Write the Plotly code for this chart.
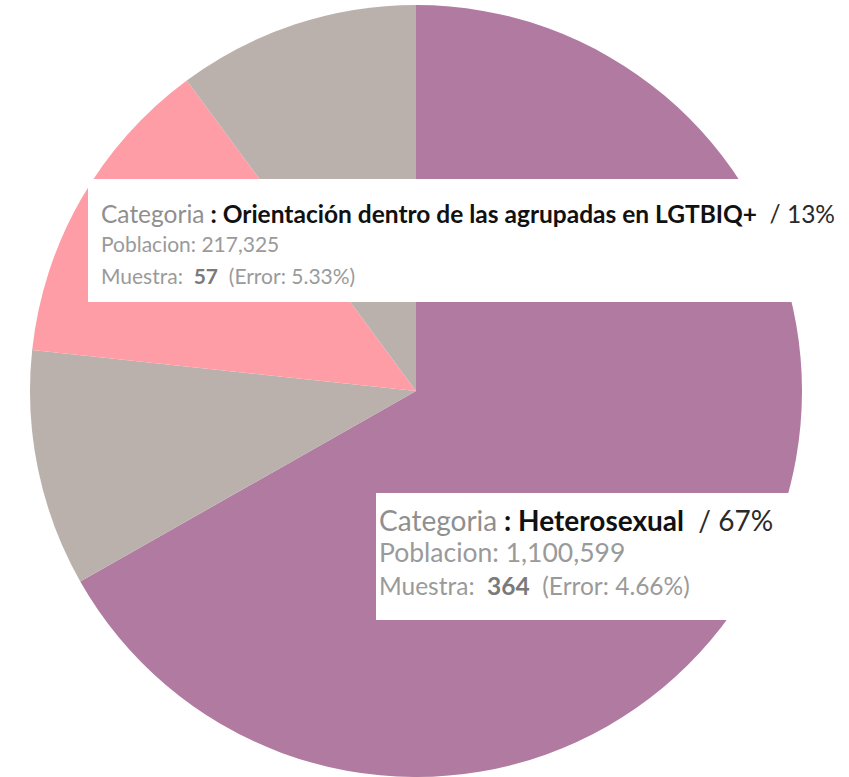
import plotly.graph_objects as go

# ---------------------------------------------------------------------
# DATA
# ---------------------------------------------------------------------
categorias = [
    "Heterosexual",
    "No sabe / No responde",
    "Orientación dentro de las agrupadas en LGTBIQ+",
    "Otra",
]
poblacion = [1100599, 163200, 217325, 166800]
colores = ["#B07AA1", "#BAB0AC", "#FF9DA7", "#BAB0AC"]

# tooltip contents
tip_categoria = ["Orientación dentro de las agrupadas en LGTBIQ+", "Heterosexual"]
tip_pct = ["13%", "67%"]
tip_poblacion = ["217,325", "1,100,599"]
tip_muestra = ["57", "364"]
tip_error = ["5.33%", "4.66%"]

W, H = 849, 777
FONT = "Lato"
NB = "\u00a0"


def px(x):
    return x / W


def py(y):
    return 1 - y / H


fig = go.Figure(
    go.Pie(
        labels=categorias,
        values=poblacion,
        marker=dict(colors=colores, line=dict(width=0)),
        sort=False,
        direction="clockwise",
        rotation=0,
        textinfo="none",
        hoverinfo="skip",
        showlegend=False,
        domain=dict(x=[px(416 - 386), px(416 + 386)], y=[py(777), py(5)]),
    )
)

# ---------------------------------------------------------------------
# TOOLTIP BOXES
# ---------------------------------------------------------------------
boxes = [
    dict(x0=88, y0=179, x1=849, y1=302, tx=99, ys=[213, 243, 275], sizes=[24.5, 21, 21]),
    dict(x0=376, y0=493, x1=849, y1=620, tx=377, ys=[520, 552, 585], sizes=[28, 26.5, 24.5]),
]

for i, b in enumerate(boxes):
    fig.add_shape(
        type="rect", xref="paper", yref="paper",
        x0=px(b["x0"]), x1=px(b["x1"]), y0=py(b["y1"]), y1=py(b["y0"]),
        fillcolor="white", line=dict(width=0), layer="above",
    )
    lines = [
        "<span style='color:#8f8f8f'>Categoria</span>"
        f"<span style='color:#111111'><b>{NB}: {tip_categoria[i]}</b></span>"
        f"<span style='color:#2a2a2a'>{NB}{NB}/ {tip_pct[i]}</span>",
        f"<span style='color:#9a9a9a'>Poblacion: {tip_poblacion[i]}</span>",
        f"<span style='color:#9a9a9a'>Muestra:{NB}{NB}</span>"
        f"<span style='color:#7a7a7a'><b>{tip_muestra[i]}</b></span>"
        f"<span style='color:#9a9a9a'>{NB}{NB}(Error: {tip_error[i]})</span>",
    ]
    for txt, yy, size in zip(lines, b["ys"], b["sizes"]):
        fig.add_annotation(
            x=px(b["tx"]), y=py(yy), xref="paper", yref="paper",
            xanchor="left", yanchor="middle", showarrow=False,
            text=txt, font=dict(family=FONT, size=size, color="#333333"),
        )

fig.update_layout(
    width=W, height=H,
    margin=dict(l=0, r=0, t=0, b=0),
    paper_bgcolor="white",
    plot_bgcolor="white",
)

# page body margin removed so the figure sits at the window origin
fig.write_html(
    "out.html",
    config={"displayModeBar": False},
    post_script="document.body.style.margin='0';",
)
